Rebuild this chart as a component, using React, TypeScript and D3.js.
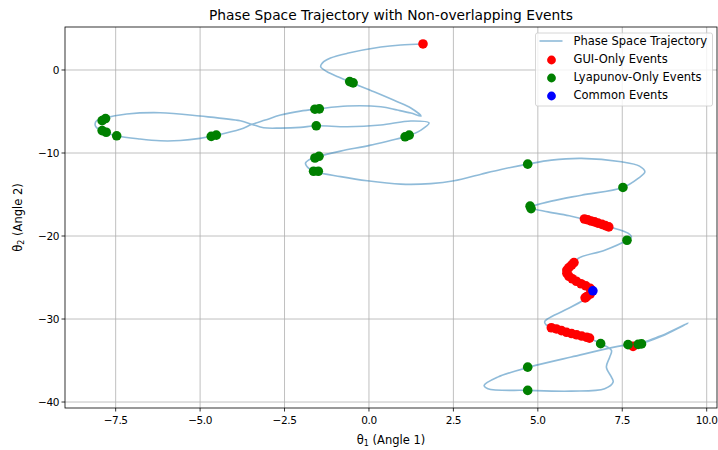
import React from "react";
import * as d3 from "d3";

// trajectory (theta1, theta2)
const trajX = [1.60, 0.94, 0.35, -0.64, -1.14, -1.34, -1.43, -1.24, -0.90, -0.54, 0.15, 0.84, 1.24, 1.54,
  1.24, 0.84, 0.35, -0.64, -1.53, -2.03, -2.62, -3.07, -3.46, -3.81, -4.60, -5.00, -5.59, -6.18, -6.78, -7.47,
  -7.87, -8.08, -8.11, -8.06, -7.87, -7.17, -6.18, -5.00, -3.81, -3.46, -3.12, -2.62, -2.03, -1.56, -0.64, 0.35,
  1.24, 1.78, 1.54, 1.14, 0.05, -0.84, -1.53, -1.79, -1.88, -1.79, -1.58, -0.84, -0.05, 0.94, 1.83, 2.52, 3.32,
  3.91, 4.70, 5.40, 6.29, 7.47, 8.01, 8.17, 7.97, 7.52, 6.29, 5.40, 4.80, 5.30, 5.99, 6.48, 7.13, 7.67, 7.77,
  7.64, 6.98, 6.19, 6.04, 5.84, 5.89, 6.19, 6.58, 6.63, 6.43, 6.34, 5.79, 5.30, 5.20, 5.40, 5.89, 6.53, 6.86,
  7.18, 7.13, 7.03, 7.18, 7.23, 6.98, 5.99, 4.70, 3.52, 3.41, 3.81, 4.75, 5.99, 7.67, 7.97, 8.66, 9.45, 8.81,
  8.22, 7.85];
const trajY = [3.14, 3.02, 2.77, 2.01, 1.45, 1.00, 0.40, -0.21, -0.84, -1.48, -2.62, -3.82, -4.58, -5.55,
  -5.19, -4.83, -4.43, -4.34, -4.70, -4.95, -5.43, -6.03, -6.55, -7.15, -7.93, -8.24, -8.50, -8.53, -8.32, -7.93,
  -7.44, -6.88, -6.51, -6.09, -5.83, -5.31, -5.15, -5.55, -6.12, -6.55, -6.96, -7.00, -6.91, -6.72, -6.84, -6.63,
  -6.15, -6.39, -7.24, -7.96, -9.05, -9.77, -10.46, -10.86, -11.25, -11.82, -12.27, -12.85, -13.35, -13.75,
  -13.69, -13.35, -12.55, -11.98, -11.34, -10.86, -10.65, -11.06, -11.58, -12.27, -13.06, -14.15, -15.08, -15.80,
  -16.56, -17.09, -17.61, -18.09, -18.90, -19.66, -20.14, -20.51, -21.71, -22.71, -23.52, -23.92, -24.73, -25.54,
  -26.33, -26.74, -27.35, -27.74, -28.95, -29.95, -30.36, -31.16, -31.76, -32.36, -32.97, -33.78, -34.58, -35.79,
  -37.00, -37.60, -38.40, -38.69, -38.60, -38.40, -38.00, -37.00, -35.79, -34.58, -33.09, -33.05, -32.09, -30.48,
  -31.73, -32.69, -33.38];

const guiX = [1.60, 6.38, 6.48, 6.58, 6.68, 6.78, 6.90, 7.00, 7.10,
  6.07, 6.00, 5.92, 5.86, 5.86, 5.92, 6.02, 6.14, 6.28, 6.42, 6.55, 6.60, 6.55, 6.45, 6.40,
  5.40, 5.55, 5.70, 5.85, 6.00, 6.15, 6.30, 6.45, 6.53, 7.82];
const guiY = [3.14, -17.95, -18.05, -18.20, -18.30, -18.45, -18.60, -18.75, -18.90,
  -23.20, -23.50, -23.80, -24.10, -24.50, -24.85, -25.15, -25.45, -25.75, -26.00, -26.30, -26.65, -27.00, -27.30, -27.45,
  -31.05, -31.20, -31.40, -31.60, -31.75, -31.90, -32.05, -32.20, -32.30, -33.30];

const lyaX = [-0.57, -0.47, -1.60, -1.47, -1.56, 1.07, 1.19, -1.60, -1.48, -1.64, -1.50, -4.67, -4.52, -7.47,
  -7.90, -7.78, -7.90, -7.80, 4.70, 7.52, 4.77, 4.80, 7.64, 6.86, 7.67, 7.97, 8.07, 4.70, 4.70];
const lyaY = [-1.40, -1.55, -4.72, -4.68, -6.72, -8.05, -7.85, -10.60, -10.40, -12.20, -12.20, -8.00, -7.85, -7.93,
  -7.30, -7.50, -6.10, -5.85, -11.34, -14.15, -16.40, -16.70, -20.51, -32.97, -33.09, -33.05, -33.00, -38.60, -35.80];

const commonX = [6.63];
const commonY = [-26.60];

const xTicks = [-7.5, -5.0, -2.5, 0.0, 2.5, 5.0, 7.5, 10.0];
const yTicks = [0, -10, -20, -30, -40];

const legendItems = ["Phase Space Trajectory", "GUI-Only Events", "Lyapunov-Only Events", "Common Events"];

const W = 718, H = 450;
const left = 65, right = 717, top = 27, bottom = 408;
const font = "DejaVu Sans, sans-serif";
const fs = 11.5;

export default function App() {
  const x = d3.scaleLinear().domain([-9.0, 10.305]).range([left, right]);
  const y = d3.scaleLinear().domain([-40.72, 5.18]).range([bottom, top]);

  const pts = trajX.map((v, i) => [v, trajY[i]] as [number, number]);
  const line = d3.line<[number, number]>()
    .x(d => x(d[0]))
    .y(d => y(d[1]))
    .curve(d3.curveCatmullRom.alpha(0.5));

  const fmt = (v: number) => (v < 0 ? "\u2212" : "") + Math.abs(v).toFixed(1);
  const fmtY = (v: number) => (v < 0 ? "\u2212" : "") + Math.abs(v);

  const r = 4.8;
  const dots = (xs: number[], ys: number[], color: string) =>
    xs.map((v, i) => <circle key={color + i} cx={x(v)} cy={y(ys[i])} r={r} fill={color} />);

  const lx = 535.5, ly = 33, lw = 177, lh = 73;
  const colors = ["red", "green", "blue"];

  return (
    <div style={{ position: "fixed", left: 0, top: 0 }}>
      <svg width={W} height={H} style={{ display: "block", background: "white" }}>
        <defs>
          <clipPath id="plot">
            <rect x={left} y={top} width={right - left} height={bottom - top} />
          </clipPath>
        </defs>
        {/* grid */}
        <g stroke="#b0b0b0" strokeWidth={0.8}>
          {xTicks.map(t => <line key={"gx" + t} x1={x(t)} x2={x(t)} y1={top} y2={bottom} />)}
          {yTicks.map(t => <line key={"gy" + t} x1={left} x2={right} y1={y(t)} y2={y(t)} />)}
        </g>
        <g clipPath="url(#plot)">
          <path d={line(pts) || ""} fill="none" stroke="#1f77b4" strokeOpacity={0.5} strokeWidth={1.6} />
          {dots(guiX, guiY, "red")}
          {dots(lyaX, lyaY, "green")}
          {dots(commonX, commonY, "blue")}
        </g>
        {/* spines */}
        <rect x={left} y={top} width={right - left} height={bottom - top} fill="none" stroke="black" strokeWidth={0.8} />
        {/* ticks and axis labels */}
        <g fontFamily={font} fontSize={fs} fill="#000">
          {xTicks.map(t => (
            <g key={"xt" + t}>
              <line x1={x(t)} x2={x(t)} y1={bottom} y2={bottom + 3.5} stroke="black" strokeWidth={0.8} />
              <text x={x(t)} y={bottom + 16} textAnchor="middle" fontSize={10.5} letterSpacing={-0.4}>{fmt(t)}</text>
            </g>
          ))}
          {yTicks.map(t => (
            <g key={"yt" + t}>
              <line x1={left - 3.5} x2={left} y1={y(t)} y2={y(t)} stroke="black" strokeWidth={0.8} />
              <text x={left - 6} y={y(t) + 4} textAnchor="end" fontSize={10.5} letterSpacing={-0.4}>{fmtY(t)}</text>
            </g>
          ))}
          <text x={(left + right) / 2} y={444} textAnchor="middle">
            θ<tspan fontSize={8} dy={2}>1</tspan><tspan dy={-2}> (Angle 1)</tspan>
          </text>
          <text transform={`translate(22,${(top + bottom) / 2}) rotate(-90)`} textAnchor="middle">
            θ<tspan fontSize={8} dy={2}>2</tspan><tspan dy={-2}> (Angle 2)</tspan>
          </text>
        </g>
        <text x={(left + right) / 2} y={20} textAnchor="middle" fontFamily={font} fontSize={13.8}>
          Phase Space Trajectory with Non-overlapping Events
        </text>
        {/* legend */}
        <g fontFamily={font} fontSize={fs}>
          <rect x={lx} y={ly} width={lw} height={lh} rx={2} fill="white" fillOpacity={0.8} stroke="#cccccc" strokeWidth={0.8} />
          {legendItems.map((name, i) => {
            const cy = ly + 8 + i * 18;
            return (
              <g key={name}>
                {i === 0 ? (
                  <line x1={lx + 4} x2={lx + 27} y1={cy} y2={cy} stroke="#1f77b4" strokeOpacity={0.5} strokeWidth={1.6} />
                ) : (
                  <circle cx={lx + 16} cy={cy + 1} r={4.4} fill={colors[i - 1]} />
                )}
                <text x={lx + 38} y={cy + 4}>{name}</text>
              </g>
            );
          })}
        </g>
      </svg>
    </div>
  );
}
